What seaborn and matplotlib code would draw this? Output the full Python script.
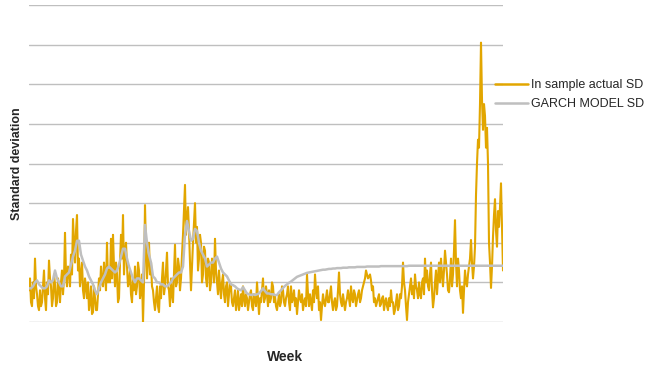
import matplotlib
matplotlib.use("Agg")
import matplotlib.pyplot as plt
from matplotlib.lines import Line2D
import seaborn as sns
import pandas as pd
import numpy as np

# In-sample actual weekly standard deviation (gridline units)
actual_sd = [
    0.8, 1.1, 0.5, 0.4, 1.0, 0.6, 1.6, 0.9, 0.7, 0.4, 0.3, 0.8, 0.4, 0.5, 0.9, 1.3, 0.6, 0.3, 1.0, 0.7,
    1.55, 1.1, 0.9, 0.4, 0.6, 1.2, 0.95, 0.4, 0.5, 1.1, 0.85, 0.5, 1.0, 1.3, 0.7, 1.1, 2.25, 1.2, 0.9, 1.4,
    1.3, 0.9, 1.7, 1.2, 2.6, 2.0, 1.5, 2.3, 2.7, 1.3, 1.6, 0.9, 1.2, 1.5, 0.8, 0.6, 1.1, 0.9, 0.6, 1.0,
    0.3, 0.5, 0.9, 0.2, 0.25, 0.9, 0.6, 0.3, 0.3, 0.7, 1.1, 0.8, 1.4, 1.0, 0.9, 1.5, 1.2, 0.8, 2.0, 1.0,
    1.3, 1.0, 2.1, 1.1, 2.2, 1.4, 0.9, 1.5, 1.2, 0.5, 0.6, 1.5, 2.2, 1.6, 2.7, 1.2, 1.8, 2.0, 1.4, 0.9,
    1.0, 1.3, 0.7, 0.5, 1.1, 0.8, 1.4, 0.7, 0.9, 1.5, 1.3, 0.6, 0.8, 1.2, 0.0, 1.0, 2.95, 1.8, 1.1, 1.6,
    2.0, 1.2, 1.5, 0.9, 0.8, 0.5, 0.3, 0.6, 0.9, 0.4, 0.25, 0.9, 0.6, 1.1, 1.5, 0.7, 0.9, 1.3, 1.75, 0.9,
    0.8, 0.4, 1.1, 0.7, 0.5, 1.2, 1.95, 0.9, 1.0, 1.6, 1.4, 0.8, 1.1, 1.7, 2.2, 2.8, 3.46, 2.2, 2.6, 2.9,
    2.3, 1.5, 0.8, 1.4, 2.0, 2.5, 3.0, 2.0, 2.4, 1.3, 1.6, 2.2, 2.0, 1.0, 1.2, 1.9, 1.8, 1.1, 0.9, 1.6,
    1.5, 0.8, 1.0, 1.6, 1.4, 1.0, 2.1, 1.3, 1.0, 0.7, 1.3, 0.9, 0.6, 1.0, 1.2, 0.7, 0.5, 0.9, 1.0, 0.4,
    0.7, 1.0, 0.9, 0.5, 0.4, 0.6, 0.8, 0.3, 0.5, 0.8, 0.3, 0.5, 0.7, 0.4, 0.9, 0.6, 0.4, 0.7, 0.6, 0.3,
    0.5, 0.7, 0.8, 0.4, 0.3, 0.7, 0.6, 0.4, 1.0, 0.6, 0.2, 0.6, 0.5, 0.8, 1.1, 0.5, 0.6, 0.9, 0.7, 0.4,
    0.8, 0.5, 0.6, 1.0, 0.9, 0.5, 0.65, 0.4, 0.3, 0.5, 0.7, 0.4, 0.5, 0.9, 0.8, 0.5, 0.4, 0.6, 0.7, 0.9,
    0.5, 0.3, 0.9, 0.5, 0.6, 0.8, 0.4, 0.6, 0.2, 0.5, 0.8, 0.6, 0.5, 0.7, 0.3, 0.5, 0.6, 0.4, 1.2, 0.7,
    0.4, 0.7, 0.5, 0.3, 0.8, 0.5, 1.2, 0.8, 0.6, 0.9, 0.3, 0.5, 0.05, 0.4, 0.7, 0.5, 0.4, 0.6, 0.8, 0.5,
    0.5, 0.7, 0.9, 0.5, 0.3, 0.5, 0.6, 0.3, 0.4, 0.8, 1.25, 0.7, 0.5, 0.4, 0.7, 0.5, 0.3, 0.5, 0.6, 0.8,
    0.6, 0.4, 0.9, 0.6, 0.5, 0.8, 0.7, 0.4, 0.55, 0.7, 0.8, 0.5, 0.6, 0.8, 0.9, 1.0, 1.1, 1.3, 1.2, 1.1,
    1.15, 1.2, 1.05, 0.8, 0.9, 0.5, 0.6, 0.4, 0.5, 0.6, 0.7, 0.4, 0.45, 0.6, 0.65, 0.3, 0.5, 0.6, 0.4, 0.3,
    0.6, 0.4, 0.8, 0.5, 0.5, 0.2, 0.3, 0.5, 0.7, 0.3, 0.4, 0.7, 0.6, 0.9, 1.5, 1.0, 0.8, 0.4, 0.05, 0.5,
    0.7, 0.9, 1.1, 0.7, 0.9, 0.6, 1.2, 0.9, 0.8, 0.6, 1.0, 0.7, 0.6, 1.0, 1.1, 0.7, 1.6, 1.0, 1.3, 0.9,
    0.8, 1.2, 1.5, 0.8, 0.37, 0.6, 1.0, 1.3, 0.7, 1.1, 1.5, 1.0, 1.6, 1.2, 0.9, 1.3, 1.8, 1.5, 1.2, 0.8,
    0.75, 1.1, 1.6, 0.9, 1.2, 1.8, 2.57, 1.5, 0.9, 1.6, 1.3, 0.8, 0.6, 0.9, 0.23, 0.8, 1.3, 1.0, 0.9, 1.2,
    1.4, 1.6, 2.07, 1.5, 1.1, 1.4, 1.9, 3.2, 4.0, 4.6, 4.4, 5.5, 7.05, 5.6, 4.85, 5.5, 5.2, 4.4, 4.9, 4.0,
    2.0, 1.5, 0.86, 1.4, 2.15, 2.7, 3.1, 2.3, 1.9, 2.8, 2.4, 2.9, 3.5, 2.4, 1.3,
]

# GARCH model standard deviation (gridline units), every other week
garch_sd = [
    0.85, 0.85, 0.9, 1.0, 1.05, 0.95, 0.9, 0.85, 0.85, 0.9,
    1.05, 1.0, 1.05, 1.3, 1.1, 1.0, 0.9, 0.9, 1.15, 1.2,
    1.25, 1.45, 1.65, 1.8, 2.05, 2.05, 1.7, 1.55, 1.4, 1.3,
    1.15, 1.05, 0.95, 0.8, 0.7, 0.85, 1.0, 1.1, 1.2, 1.35,
    1.4, 1.35, 1.3, 1.25, 1.3, 1.45, 1.65, 1.85, 1.85, 1.6,
    1.4, 1.25, 1.1, 1.0, 1.1, 1.1, 1.05, 1.0, 2.45, 2.0,
    1.7, 1.5, 1.15, 1.1, 1.0, 1.0, 0.95, 0.95, 0.9, 0.9,
    0.95, 1.0, 1.1, 1.15, 1.2, 1.25, 1.25, 1.4, 2.2, 2.55,
    2.3, 2.05, 2.1, 2.35, 2.3, 2.0, 1.8, 1.7, 1.6, 1.4,
    1.45, 1.5, 1.5, 1.6, 1.65, 1.5, 1.35, 1.25, 1.2, 1.15,
    1.05, 0.95, 0.93, 0.9, 0.85, 0.82, 0.8, 0.88, 0.8, 0.72,
    0.7, 0.68, 0.7, 0.68, 0.7, 0.72, 0.78, 0.85, 0.78, 0.72,
    0.72, 0.7, 0.7, 0.68, 0.68, 0.75, 0.8, 0.86, 0.91, 0.95,
    0.99, 1.02, 1.06, 1.1, 1.14, 1.16, 1.18, 1.2, 1.22, 1.24,
    1.25, 1.26, 1.27, 1.28, 1.29, 1.3, 1.31, 1.32, 1.32, 1.33,
    1.34, 1.34, 1.35, 1.35, 1.36, 1.36, 1.36, 1.37, 1.37, 1.37,
    1.38, 1.38, 1.38, 1.38, 1.39, 1.39, 1.39, 1.39, 1.39, 1.40,
    1.40, 1.40, 1.40, 1.40, 1.40, 1.40, 1.41, 1.41, 1.41, 1.41,
    1.41, 1.41, 1.41, 1.41, 1.41, 1.41, 1.41, 1.41, 1.41, 1.41,
    1.42, 1.42, 1.42, 1.42, 1.42, 1.42, 1.42, 1.42, 1.42, 1.42,
    1.42, 1.42, 1.42, 1.42, 1.42, 1.42, 1.42, 1.42, 1.42, 1.42,
    1.42, 1.42, 1.42, 1.42, 1.42, 1.42, 1.42, 1.42, 1.42, 1.42,
    1.42, 1.42, 1.42, 1.42, 1.42, 1.42, 1.42, 1.42, 1.42, 1.42,
    1.42, 1.42, 1.42, 1.42, 1.42, 1.42, 1.42, 1.42,
]

series_names = ["In sample actual SD", "GARCH MODEL SD"]
actual_weeks = list(range(1, len(actual_sd) + 1))
garch_weeks = actual_weeks[::2][:len(garch_sd)]

df = pd.DataFrame({
    "Week": actual_weeks + garch_weeks,
    "SD": actual_sd + garch_sd,
    "Series": [series_names[0]] * len(actual_sd) + [series_names[1]] * len(garch_sd),
})

sns.set_theme(style="white")
plt.rcParams["font.family"] = ["Liberation Sans", "DejaVu Sans"]

fig = plt.figure(figsize=(6.51, 3.69), dpi=100)
ax = fig.add_axes([29 / 651, 1 - 322 / 369, 474 / 651, 317 / 369])

palette = {series_names[0]: "#E2A600", series_names[1]: "#BFBFBF"}
sns.lineplot(data=df[df["Series"] == series_names[0]], x="Week", y="SD",
             color=palette[series_names[0]], ax=ax, linewidth=1.5, legend=False)
sns.lineplot(data=df[df["Series"] == series_names[1]], x="Week", y="SD",
             color=palette[series_names[1]], ax=ax, linewidth=1.8, legend=False)

ax.set_xlim(1, len(actual_sd))
ax.set_ylim(0, 8)
ax.set_yticks(np.arange(0, 9, 1))
ax.yaxis.grid(True, color="#BFBFBF", linewidth=1.0)
ax.set_axisbelow(True)
ax.tick_params(left=False, bottom=False, labelleft=False, labelbottom=False)
for s in ax.spines.values():
    s.set_visible(False)
ax.set_xlabel("")
ax.set_ylabel("")

fig.text(285 / 651, 1 - 357 / 369, "Week", ha="center", va="center",
         fontsize=10, fontweight="bold")
fig.text(17 / 651, 1 - 164 / 369, "Standard deviation", ha="center", va="center",
         rotation=90, fontsize=9, fontweight="bold")

handles = [Line2D([], [], color=palette[n], linewidth=1.8) for n in series_names]
fig.legend(handles, series_names, loc="upper left",
           bbox_to_anchor=(490 / 651, 1 - 74 / 369), frameon=False,
           fontsize=9, handlelength=2.6, handletextpad=0.3, labelspacing=0.55,
           borderaxespad=0)

fig.savefig("out.png", dpi=100)
